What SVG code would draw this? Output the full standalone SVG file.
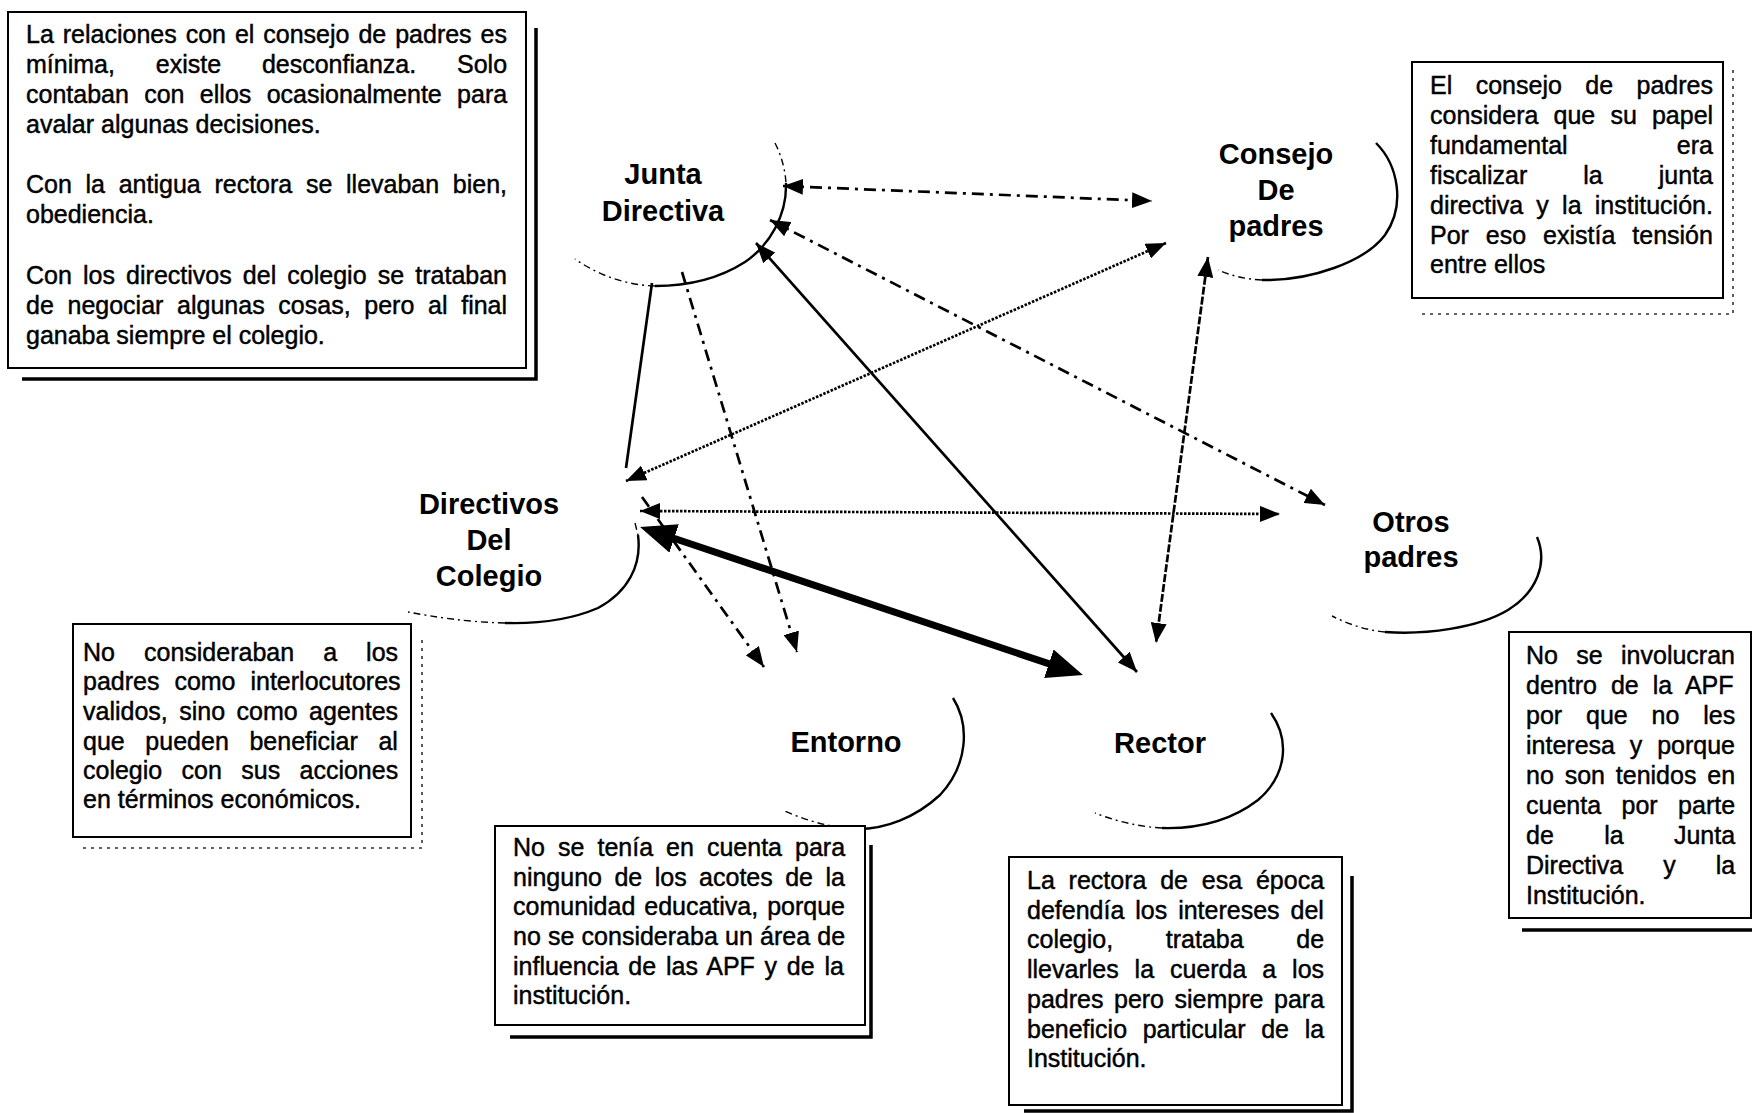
<svg xmlns="http://www.w3.org/2000/svg" width="1752" height="1113" viewBox="0 0 1752 1113">
<style>
.bg{fill:#fff}
.box{fill:#fff;stroke:#000;stroke-width:2}
.sh{fill:none;stroke:#000;stroke-width:3.5}
.shd{fill:none;stroke:#333;stroke-width:1.6;stroke-dasharray:3 5}
.t{font-family:'Liberation Sans',Arial,sans-serif;font-size:25px;fill:#000;stroke:#000;stroke-width:0.45}
.lbl{font-family:'Liberation Sans',Arial,sans-serif;font-size:29px;font-weight:bold;text-anchor:middle;fill:#000}
.arc{fill:none;stroke:#000;stroke-width:2.4}
.arcd{fill:none;stroke:#000;stroke-width:1.4;stroke-dasharray:7 4 2 4}
.c{fill:none;stroke:#000;stroke-width:2.7}
.dd{stroke-dasharray:12 6 3 6}
.dot{stroke-dasharray:2.5 1.5}
.fd{stroke-dasharray:8 2}
.thick{stroke-width:7}
</style>
<defs>
<marker id="ah" viewBox="0 0 20 16" refX="20" refY="8" markerWidth="20" markerHeight="16" markerUnits="userSpaceOnUse" orient="auto-start-reverse"><path d="M0,0 L20,8 L0,16 z" fill="#000"/></marker>
<marker id="ahb" viewBox="0 0 36 30" refX="6" refY="15" markerWidth="36" markerHeight="30" markerUnits="userSpaceOnUse" orient="auto-start-reverse"><path d="M0,0 L36,15 L0,30 z" fill="#000"/></marker>
</defs>
<rect class="bg" x="0" y="0" width="1752" height="1113"/>

<g id="connectors">
<line class="c dd" x1="783" y1="186" x2="1152" y2="201" marker-start="url(#ah)" marker-end="url(#ah)"/>
<line class="c dd" x1="770" y1="220" x2="1325" y2="505" marker-start="url(#ah)" marker-end="url(#ah)"/>
<line class="c" x1="652" y1="283" x2="626" y2="468"/>
<line class="c dot" x1="1166" y1="243" x2="626" y2="481" marker-start="url(#ah)" marker-end="url(#ah)"/>
<line class="c dd" x1="682" y1="272" x2="797" y2="652" marker-end="url(#ah)"/>
<line class="c dot" x1="640" y1="511" x2="1280" y2="514" marker-start="url(#ah)" marker-end="url(#ah)"/>
<line class="c thick" x1="668.5" y1="536.5" x2="1054.5" y2="665.6" marker-start="url(#ahb)" marker-end="url(#ahb)"/>
<line class="c dd" x1="642" y1="497" x2="764" y2="667" marker-end="url(#ah)"/>
<line class="c" x1="1137" y1="672" x2="756" y2="243" marker-start="url(#ah)" marker-end="url(#ah)"/>
<line class="c fd" x1="1208" y1="257" x2="1156" y2="643" marker-start="url(#ah)" marker-end="url(#ah)"/>
</g>

<g id="node-junta">
<path class="arcd" d="M775 143 C781 155 785 168 786 183"/>
<path class="arc" d="M786 183 C787 215 770 245 745 262 C720 278 690 286 655 286"/>
<path class="arcd" d="M655 286 C625 285 598 275 575 259"/>
<text class="lbl" x="663" y="184">Junta</text>
<text class="lbl" x="663" y="221">Directiva</text>
</g>

<g id="node-consejo">
<path class="arc" d="M1376 143 C1398 165 1406 205 1385 235 C1365 262 1310 281 1262 280"/>
<path class="arcd" d="M1262 280 C1245 279 1232 276 1218 270"/>
<text class="lbl" x="1276" y="164">Consejo</text>
<text class="lbl" x="1276" y="200">De</text>
<text class="lbl" x="1276" y="236">padres</text>
</g>

<g id="node-directivos">
<path class="arcd" d="M635 523 L638 535"/>
<path class="arc" d="M638 535 C642 565 628 592 598 608 C570 620 540 624 505 623"/>
<path class="arcd" d="M505 623 C465 622 435 617 408 612"/>
<text class="lbl" x="489" y="514">Directivos</text>
<text class="lbl" x="489" y="550">Del</text>
<text class="lbl" x="489" y="586">Colegio</text>
</g>

<g id="node-otros">
<path class="arc" d="M1537 537 C1548 563 1537 592 1508 610 C1478 628 1425 635 1385 632"/>
<path class="arcd" d="M1385 632 C1365 630 1348 624 1332 616"/>
<text class="lbl" x="1411" y="532">Otros</text>
<text class="lbl" x="1411" y="567">padres</text>
</g>

<g id="node-entorno">
<path class="arc" d="M953 698 C970 725 968 765 940 795 C915 818 885 829 858 829"/>
<path class="arcd" d="M858 829 C830 828 805 820 782 810"/>
<text class="lbl" x="846" y="752">Entorno</text>
</g>

<g id="node-rector">
<path class="arc" d="M1271 713 C1290 740 1287 775 1258 800 C1232 820 1198 829 1162 828"/>
<path class="arcd" d="M1162 828 C1140 827 1115 821 1095 813"/>
<text class="lbl" x="1160" y="753">Rector</text>
</g>

<g id="note-junta">
<path class="sh" d="M536 28 L536 379 L22 379"/>
<rect class="box" x="8" y="12" width="518" height="356"/>
<text class="t" x="26" y="43" word-spacing="2">La relaciones con el consejo de padres es</text>
<text class="t" x="26" y="73" word-spacing="33.9">mínima, existe desconfianza. Solo</text>
<text class="t" x="26" y="103" word-spacing="8.4">contaban con ellos ocasionalmente para</text>
<text class="t" x="26" y="133">avalar algunas decisiones.</text>
<text class="t" x="26" y="193" word-spacing="6.75">Con la antigua rectora se llevaban bien,</text>
<text class="t" x="26" y="223">obediencia.</text>
<text class="t" x="26" y="284" word-spacing="4.2">Con los directivos del colegio se trataban</text>
<text class="t" x="26" y="314" word-spacing="6.75">de negociar algunas cosas, pero al final</text>
<text class="t" x="26" y="344">ganaba siempre el colegio.</text>
</g>

<g id="note-consejo">
<path class="shd" d="M1733 70 L1733 314 L1420 314"/>
<rect class="box" x="1412" y="62" width="311" height="236"/>
<text class="t" x="1430" y="94" word-spacing="16.5">El consejo de padres</text>
<text class="t" x="1430" y="124" word-spacing="8.2">considera que su papel</text>
<text class="t" x="1430" y="154" word-spacing="102.3">fundamental era</text>
<text class="t" x="1430" y="184" word-spacing="49.1">fiscalizar la junta</text>
<text class="t" x="1430" y="214" word-spacing="6.3">directiva y la institución.</text>
<text class="t" x="1430" y="244" word-spacing="10">Por eso existía tensión</text>
<text class="t" x="1430" y="273">entre ellos</text>
</g>

<g id="note-directivos">
<path class="shd" d="M422 640 L422 848 L82 848"/>
<rect class="box" x="73" y="624" width="338" height="213"/>
<text class="t" x="83" y="661" word-spacing="22.1">No consideraban a los</text>
<text class="t" x="83" y="690" word-spacing="8">padres como interlocutores</text>
<text class="t" x="83" y="720" word-spacing="4.5">validos, sino como agentes</text>
<text class="t" x="83" y="750" word-spacing="13.7">que pueden beneficiar al</text>
<text class="t" x="83" y="779" word-spacing="12.4">colegio con sus acciones</text>
<text class="t" x="83" y="808">en términos económicos.</text>
</g>

<g id="note-entorno">
<path class="sh" d="M871 845 L871 1037 L510 1037"/>
<rect class="box" x="495" y="826" width="370" height="199"/>
<text class="t" x="513" y="856" word-spacing="6.1">No se tenía en cuenta para</text>
<text class="t" x="513" y="886" word-spacing="5.5">ninguno de los acotes de la</text>
<text class="t" x="513" y="915" word-spacing="2">comunidad educativa, porque</text>
<text class="t" x="513" y="945" word-spacing="0.25">no se consideraba un área de</text>
<text class="t" x="513" y="975" word-spacing="2.8">influencia de las APF y de la</text>
<text class="t" x="513" y="1004">institución.</text>
</g>

<g id="note-rector">
<path class="sh" d="M1352 876 L1352 1111 L1024 1111"/>
<rect class="box" x="1009" y="857" width="333" height="248"/>
<text class="t" x="1027" y="889" word-spacing="6.85">La rectora de esa época</text>
<text class="t" x="1027" y="919" word-spacing="4">defendía los intereses del</text>
<text class="t" x="1027" y="948" word-spacing="45.7">colegio, trataba de</text>
<text class="t" x="1027" y="978" word-spacing="8.95">llevarles la cuerda a los</text>
<text class="t" x="1027" y="1008" word-spacing="3.6">padres pero siempre para</text>
<text class="t" x="1027" y="1038" word-spacing="8.7">beneficio particular de la</text>
<text class="t" x="1027" y="1067">Institución.</text>
</g>

<g id="note-otros">
<path class="sh" d="M1522 930 L1752 930"/>
<rect class="box" x="1509" y="632" width="242" height="286"/>
<text class="t" x="1526" y="664" word-spacing="11.4">No se involucran</text>
<text class="t" x="1526" y="694" word-spacing="7.1">dentro de la APF</text>
<text class="t" x="1526" y="724" word-spacing="16.9">por que no les</text>
<text class="t" x="1526" y="754" word-spacing="7.9">interesa y porque</text>
<text class="t" x="1526" y="784" word-spacing="3.9">no son tenidos en</text>
<text class="t" x="1526" y="814" word-spacing="13.5">cuenta por parte</text>
<text class="t" x="1526" y="844" word-spacing="43.4">de la Junta</text>
<text class="t" x="1526" y="874" word-spacing="33">Directiva y la</text>
<text class="t" x="1526" y="904">Institución.</text>
</g>
</svg>
